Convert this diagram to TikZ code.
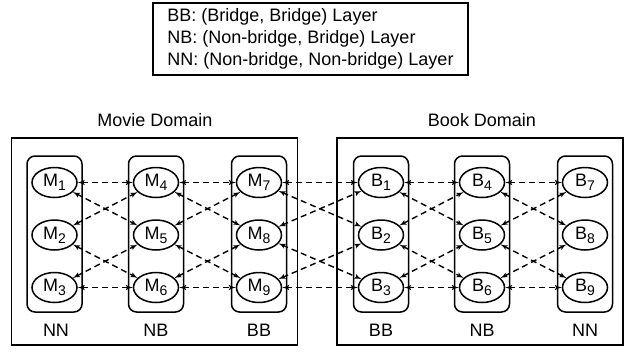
\documentclass[tikz,border=0pt]{standalone}
\usepackage{fontspec}
\setmainfont{Liberation Sans}
\usetikzlibrary{arrows,shapes.geometric}

\newcommand{\idx}[1]{\raisebox{-0.4ex}{\fontsize{14}{14}\selectfont #1}}

\begin{document}
\begin{tikzpicture}[x=1pt,y=-1pt,font=\fontsize{18}{22}\selectfont]
\tikzset{entity/.style = {shape=ellipse,draw,line width=1.5pt,minimum width=45pt,minimum height=30pt,inner sep=0pt}}
\tikzset{layer/.style = {draw,line width=1.5pt,rounded corners=8pt,minimum width=55pt,minimum height=156pt}}
\tikzset{domainbox/.style = {draw,line width=1.6pt,minimum height=207pt}}
\tikzset{edge/.style = {<->,> = latex',dash pattern=on 6pt off 4pt,line width=1.4pt}}
\useasboundingbox (0,0) rectangle (629,354);

% legend
\node[draw,line width=1.5pt,minimum width=315pt,minimum height=72pt,align=left] (legend) at (310.5,39)
  {BB: (Bridge, Bridge) Layer\\NB: (Non-bridge, Bridge) Layer\\NN: (Non-bridge, Non-bridge) Layer};

% domains
\node[domainbox, minimum width=286pt] (movie) at (154.5,241.5) {};
\node[domainbox, minimum width=286pt] (book)  at (480,241.5) {};
\node (movietitle) at (155,120) {Movie Domain};
\node (booktitle)  at (482,120) {Book Domain};

% layers
\node[layer] (l1) at (54.5,234) {};
\node[layer] (l2) at (156,234) {};
\node[layer] (l3) at (259,234) {};
\node[layer] (l4) at (381,234) {};
\node[layer] (l5) at (482,234) {};
\node[layer] (l6) at (585,234) {};

\node (t1) at (56,330) {NN};
\node (t2) at (156,330) {NB};
\node (t3) at (259,330) {BB};
\node (t4) at (381,330) {BB};
\node (t5) at (482,330) {NB};
\node (t6) at (585,330) {NN};

% entities
\node[entity] (M1) at (54.5,182.5) {M\idx{1}};
\node[entity] (M2) at (54.5,235)   {M\idx{2}};
\node[entity] (M3) at (54.5,287.5) {M\idx{3}};
\node[entity] (M4) at (156,182.5)  {M\idx{4}};
\node[entity] (M5) at (156,235)    {M\idx{5}};
\node[entity] (M6) at (156,287.5)  {M\idx{6}};
\node[entity] (M7) at (259,182.5)  {M\idx{7}};
\node[entity] (M8) at (259,235)    {M\idx{8}};
\node[entity] (M9) at (259,287.5)  {M\idx{9}};
\node[entity] (B1) at (381,182.5)  {B\idx{1}};
\node[entity] (B2) at (381,235)    {B\idx{2}};
\node[entity] (B3) at (381,287.5)  {B\idx{3}};
\node[entity] (B4) at (482,182.5)  {B\idx{4}};
\node[entity] (B5) at (482,235)    {B\idx{5}};
\node[entity] (B6) at (482,287.5)  {B\idx{6}};
\node[entity] (B7) at (585,182.5)  {B\idx{7}};
\node[entity] (B8) at (585,235)    {B\idx{8}};
\node[entity] (B9) at (585,287.5)  {B\idx{9}};

% links between neighbouring layers
\foreach \a/\b/\c/\d/\e/\f in {M1/M2/M3/M4/M5/M6, M4/M5/M6/M7/M8/M9, M7/M8/M9/B1/B2/B3,
                               B1/B2/B3/B4/B5/B6, B4/B5/B6/B7/B8/B9}
{
  \draw[edge] (\a) -- (\d);
  \draw[edge] (\c) -- (\f);
  \draw[edge] (\a) -- (\e);
  \draw[edge] (\b) -- (\d);
  \draw[edge] (\b) -- (\f);
  \draw[edge] (\c) -- (\e);
}
\end{tikzpicture}
\end{document}
